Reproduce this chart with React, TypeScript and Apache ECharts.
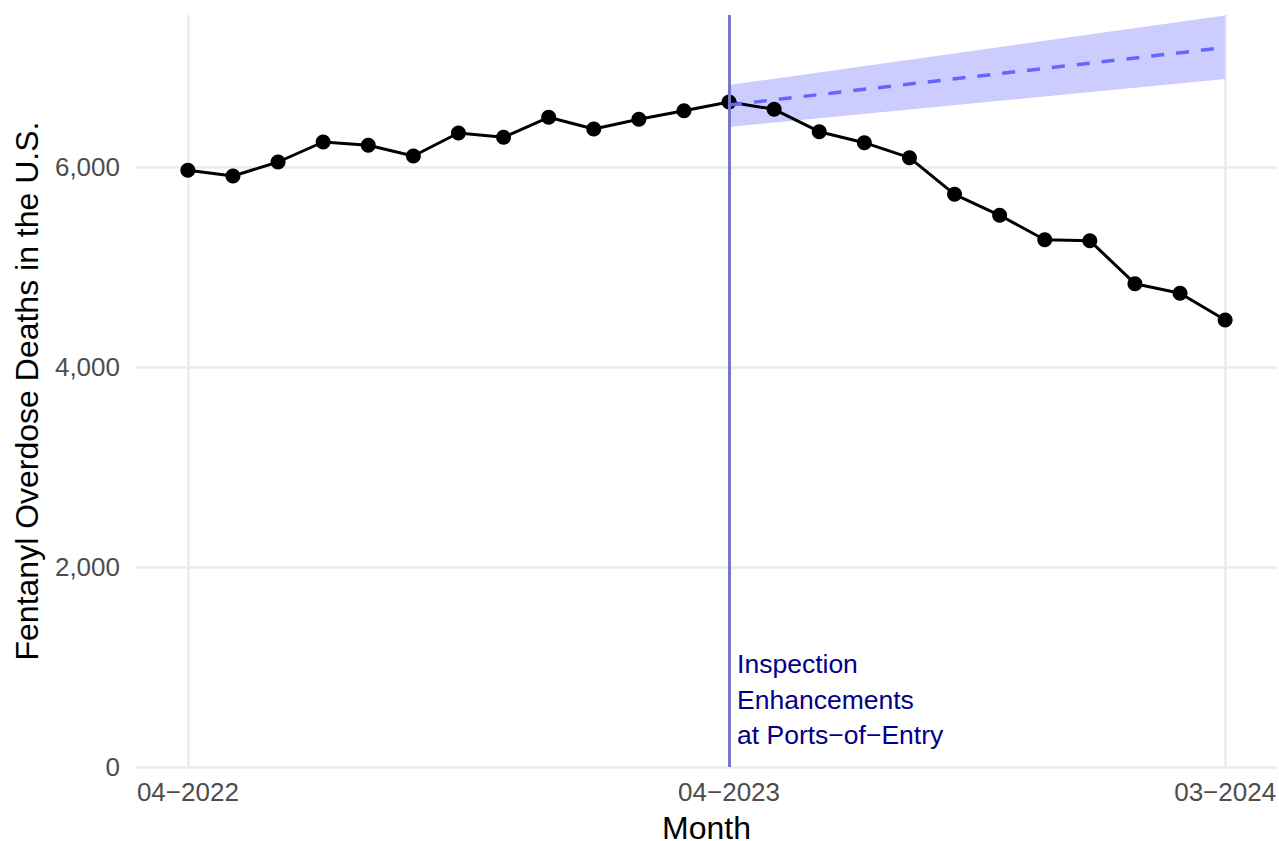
import React, { useEffect, useRef } from "react";
import * as echarts from "echarts";

// Months (index 0 = 04-2022 ... 23 = 03-2024)
const months = [
  "04−2022", "05−2022", "06−2022", "07−2022", "08−2022", "09−2022",
  "10−2022", "11−2022", "12−2022", "01−2023", "02−2023", "03−2023",
  "04−2023", "05−2023", "06−2023", "07−2023", "08−2023", "09−2023",
  "10−2023", "11−2023", "12−2023", "01−2024", "02−2024", "03−2024",
];
const deaths = [
  5967, 5910, 6050, 6250, 6217, 6110, 6340, 6297, 6497, 6380, 6477, 6563,
  6650, 6577, 6353, 6243, 6093, 5727, 5517, 5273, 5263, 4833, 4737, 4470,
];
// Counterfactual projection (from 04-2023 to 03-2024)
const projMonths = [12, 23];
const projCenter = [6620, 7195];
const projLower = [6400, 6880];
const projUpper = [6820, 7515];

const xTickMonths = [0, 12, 23];
const yTicks = [0, 2000, 4000, 6000];
const interventionMonth = 12;
const annotationText = "Inspection\nEnhancements\nat Ports−of−Entry";

const FONT = "Liberation Sans, Arial, sans-serif";

export default function App() {
  const ref = useRef<HTMLDivElement>(null);
  useEffect(() => {
    if (!ref.current) return;
    const chart = echarts.init(ref.current, undefined, { renderer: "svg" });
    const bandPts = projMonths.map((m, i) => [m, projLower[i], projUpper[i]]);
    const option: any = {
      animation: false,
      backgroundColor: "#FFFFFF",
      textStyle: { fontFamily: FONT },
      grid: { left: 136, right: 2, top: 15, bottom: 74, containLabel: false, outerBoundsMode: "none" },
      xAxis: {
        type: "value",
        min: -1.15,
        max: 24.15,
        name: "Month",
        nameLocation: "middle",
        nameGap: 61,
        nameTextStyle: { fontSize: 32, lineHeight: 24, color: "#000000", fontFamily: FONT, verticalAlign: "middle" },
        axisLine: { show: false },
        axisTick: { show: false },
        splitLine: { show: false },
        axisLabel: {
          customValues: xTickMonths,
          formatter: (v: number) => months[Math.round(v)] ?? "",
          fontSize: 26,
          color: "#4D4D4D",
          margin: 12,
          fontFamily: FONT,
        },
      },
      yAxis: {
        type: "value",
        min: 0,
        max: 7520,
        name: "Fentanyl Overdose Deaths in the U.S.",
        nameLocation: "middle",
        nameGap: 93,
        nameTextStyle: { fontSize: 32, color: "#000000", fontFamily: FONT },
        axisLine: { show: false },
        axisTick: { show: false },
        splitLine: { show: false },
        axisLabel: {
          customValues: yTicks,
          formatter: (v: number) => v.toLocaleString("en-US"),
          fontSize: 26,
          color: "#4D4D4D",
          margin: 16,
          fontFamily: FONT,
        },
      },
      series: [
        {
          type: "line",
          name: "grid",
          data: [[0, 0]],
          showSymbol: false,
          symbol: "none",
          lineStyle: { opacity: 0 },
          silent: true,
          z: 0,
          markLine: {
            silent: true,
            z: 0,
            symbol: "none",
            label: { show: false },
            lineStyle: { color: "#EBEBEB", width: 2.5, type: "solid" },
            data: [
              ...xTickMonths.map((m) => ({ xAxis: m })),
              ...yTicks.map((t) => ({ yAxis: t })),
            ],
          },
        },
        {
          type: "custom",
          name: "band",
          data: bandPts,
          silent: true,
          z: 1,
          renderItem: (params: any, api: any) => {
            if (params.dataIndex !== 0) return null;
            const upper = bandPts.map((p) => api.coord([p[0], p[2]]));
            const lower = bandPts.map((p) => api.coord([p[0], p[1]])).reverse();
            return {
              type: "polygon",
              shape: { points: [...upper, ...lower] },
              style: { fill: "#CCCCFF", stroke: "none" },
            };
          },
        },
        {
          type: "line",
          name: "deaths",
          data: deaths.map((d, i) => [i, d]),
          symbol: "circle",
          symbolSize: 15,
          showSymbol: true,
          itemStyle: { color: "#000000" },
          lineStyle: { color: "#000000", width: 3 },
          z: 3,
        },
        {
          type: "line",
          name: "projection",
          data: projMonths.map((m, i) => [m, projCenter[i]]),
          showSymbol: false,
          symbol: "none",
          lineStyle: { color: "#6666FF", width: 3.5, type: [13, 12] },
          z: 4,
        },
        {
          type: "line",
          name: "intervention",
          data: [[interventionMonth, 0]],
          showSymbol: false,
          symbol: "none",
          lineStyle: { opacity: 0 },
          silent: true,
          z: 5,
          markLine: {
            silent: true,
            z: 5,
            symbol: "none",
            label: { show: false },
            lineStyle: { color: "#7777CC", width: 3, type: "solid", opacity: 1 },
            data: [{ xAxis: interventionMonth }],
          },
        },
        {
          type: "scatter",
          name: "annotation",
          data: [[interventionMonth, 0]],
          symbolSize: 0,
          silent: true,
          itemStyle: { opacity: 1 },
          z: 6,
          label: {
            show: true,
            formatter: annotationText,
            position: [8, -14],
            align: "left",
            verticalAlign: "bottom",
            fontSize: 26.5,
            lineHeight: 35.5,
            color: "#00008B",
            opacity: 1,
            textBorderWidth: 0,
            textBorderColor: "transparent",
            fontFamily: FONT,
          },
        },
      ],
    };
    chart.setOption(option);
    return () => chart.dispose();
  }, []);
  return (
    <div
      ref={ref}
      style={{ position: "fixed", left: 0, top: 0, width: 1279, height: 841, background: "#fff" }}
    />
  );
}
